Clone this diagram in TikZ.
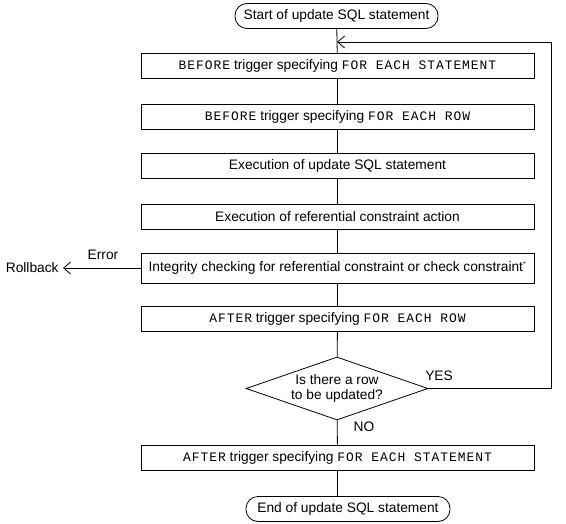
\documentclass[tikz,border=0pt]{standalone}
\usepackage{fontspec}
\setmainfont{Liberation Sans}
\setmonofont[LetterSpace=7.5]{Liberation Mono}
\usetikzlibrary{shapes.geometric,arrows.meta}
\newcommand\mycode[1]{{\ttfamily\fontsize{13}{14}\selectfont #1}}
\begin{document}
\begin{tikzpicture}[x=1bp,y=-1bp, font=\fontsize{13.8}{15.5}\selectfont, line width=0.8bp,
 box/.style={draw, rectangle, minimum width=393bp, minimum height=25bp, inner sep=0},
 term/.style={draw, rectangle, rounded corners=12bp, minimum height=25bp, inner sep=0},
 cond/.style={draw, diamond, aspect=2.9, minimum width=182bp, minimum height=63bp, inner sep=0, align=center},
 lbl/.style={inner sep=0},
 arr/.style={-{Straight Barb[length=7bp,width=12bp]}}]
\useasboundingbox (0,0) rectangle (566,524);
\node[term, minimum width=203bp] (start) at (336.5,16) {Start of update SQL statement};
\node[box] (b1) at (337.5,66) {\mycode{BEFORE} trigger specifying \mycode{FOR EACH STATEMENT}};
\node[box] (b2) at (337.5,116.5) {\mycode{BEFORE} trigger specifying \mycode{FOR EACH ROW}};
\node[box] (b3) at (337.5,166) {Execution of update SQL statement};
\node[box] (b4) at (337.5,216.5) {Execution of referential constraint action};
\node[box, minimum height=30bp] (b5) at (337.5,268) {Integrity checking for referential constraint or check constraint\textsuperscript{\fontsize{7}{7}\selectfont *}};
\node[box] (b6) at (337.5,318.5) {\mycode{AFTER} trigger specifying \mycode{FOR EACH ROW}};
\node[cond] (d) at (337,388.5) {Is there a row\\to be updated?};
\node[box] (b7) at (337.5,457.5) {\mycode{AFTER} trigger specifying \mycode{FOR EACH STATEMENT}};
\node[term, minimum width=204bp] (end) at (348,509) {End of update SQL statement};
\draw (start) -- (b1);
\draw (b1) -- (b2);
\draw (b2) -- (b3);
\draw (b3) -- (b4);
\draw (b4) -- (b5);
\draw (b5) -- (b6);
\draw (b6) -- (d);
\draw (d) -- (b7);
\draw (b7.south -| d.south) -- (d.south |- end.north);
\coordinate (lr) at (551,388.5);
\coordinate (lt) at (551,42);
\coordinate (la) at (337,42);
\draw[arr] (d.east) -- (lr) -- (lt) -- (la);
\node[lbl, anchor=east] (rb) at (59,268) {Rollback};
\coordinate (rbt) at (63,268);
\draw[arr] (b5.west) -- (rbt);
\node[lbl] (err) at (103,255) {Error};
\node[lbl] (yes) at (439,376) {YES};
\node[lbl] (no) at (364,427) {NO};
\end{tikzpicture}
\end{document}
